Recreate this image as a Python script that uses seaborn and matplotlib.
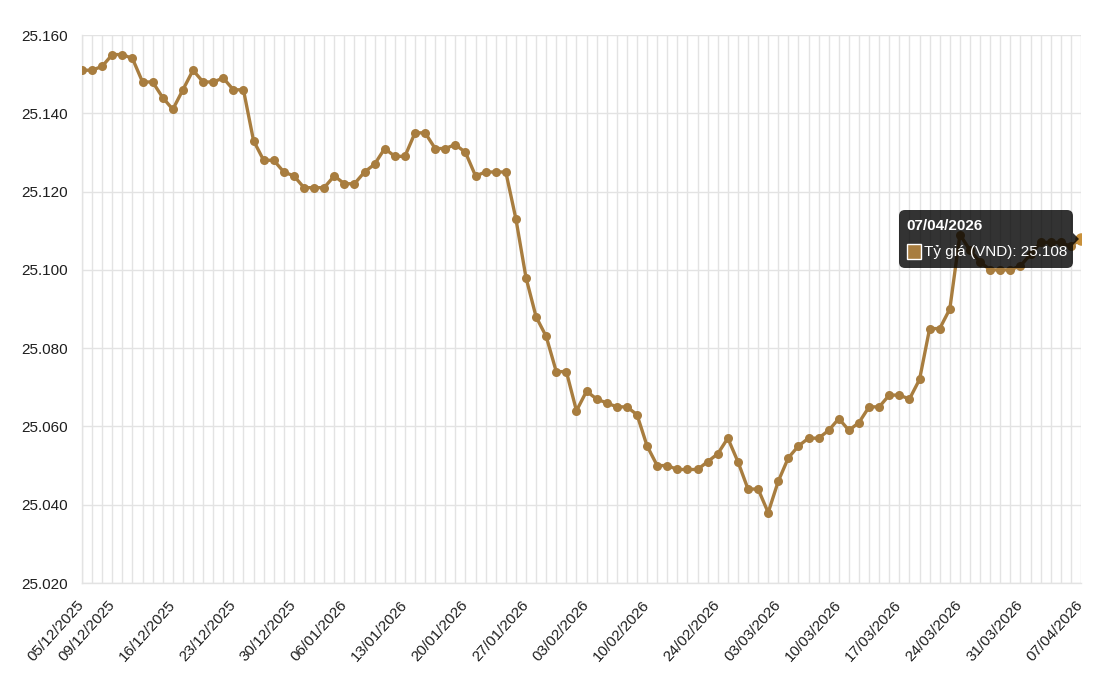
import pandas as pd
import matplotlib
matplotlib.use("Agg")
import matplotlib.pyplot as plt
from matplotlib.patches import FancyBboxPatch, Polygon, Rectangle
import seaborn as sns

# daily central rate (VND), Mon-Sat publishing days
rates = [
    25151, 25151, 25152, 25155, 25155, 25154, 25148, 25148, 25144, 25141,
    25146, 25151, 25148, 25148, 25149, 25146, 25146, 25133, 25128, 25128,
    25125, 25124, 25121, 25121, 25121, 25124, 25122, 25122, 25125, 25127,
    25131, 25129, 25129, 25135, 25135, 25131, 25131, 25132, 25130, 25124,
    25125, 25125, 25125, 25113, 25098, 25088, 25083, 25074, 25074, 25064,
    25069, 25067, 25066, 25065, 25065, 25063, 25055, 25050, 25050, 25049,
    25049, 25049, 25051, 25053, 25057, 25051, 25044, 25044, 25038, 25046,
    25052, 25055, 25057, 25057, 25059, 25062, 25059, 25061, 25065, 25065,
    25068, 25068, 25067, 25072, 25085, 25085, 25090, 25109, 25105, 25102,
    25100, 25100, 25100, 25101, 25104, 25107, 25107, 25107, 25106, 25108,
]
holidays = ["2026-01-01", "2026-02-16", "2026-02-17", "2026-02-18",
            "2026-02-19", "2026-02-20"]
y_ticks = [25020, 25040, 25060, 25080, 25100, 25120, 25140, 25160]

dates = pd.bdate_range("2025-12-05", "2026-04-07", freq="C",
                       weekmask="Mon Tue Wed Thu Fri Sat", holidays=holidays)
labels = list(dates.strftime("%d/%m/%Y"))
df = pd.DataFrame({"idx": range(len(rates)), "rate": rates, "date": labels})
shown = [0] + [i for i, d in enumerate(dates) if d.weekday() == 1]

LINE = "#a87d3f"
GRID = "#e3e3e3"
TEXT = "#1e1e1e"

sns.set_theme(style="white")
plt.rcParams["font.family"] = ["Liberation Sans", "DejaVu Sans"]

W, H = 1098, 675
fig = plt.figure(figsize=(W / 100, H / 100), dpi=100)
ax = fig.add_axes([82 / W, 1 - 583 / H, (1081 - 82) / W, (583 - 35) / H])

sns.lineplot(data=df, x="idx", y="rate", color=LINE, lw=2.4, marker="o",
             markersize=6.5, markeredgewidth=0, ax=ax, zorder=3)
# hovered point
ax.plot(df["idx"].iloc[-1], df["rate"].iloc[-1], "o", color="#c8903a",
        markersize=8, zorder=4)

ax.set_xlim(0, len(rates) - 1)
ax.set_ylim(y_ticks[0], y_ticks[-1])
ax.set_xticks(df["idx"])
ax.set_xticklabels([lab if i in shown else "" for i, lab in enumerate(labels)],
                   rotation=48, ha="right", va="center", rotation_mode="anchor")
ax.set_yticks(y_ticks)
ax.set_yticklabels([f"{v / 1000:.3f}" for v in y_ticks])
ax.tick_params(axis="both", length=7, width=1, color=GRID, labelsize=11,
               labelcolor=TEXT)
ax.tick_params(axis="x", pad=7)
ax.tick_params(axis="y", pad=3)
ax.grid(True, color=GRID, lw=1)
for side in ["top", "right"]:
    ax.spines[side].set_visible(False)
for side in ["left", "bottom"]:
    ax.spines[side].set_color(GRID)
    ax.spines[side].set_linewidth(1)
ax.set_xlabel("")
ax.set_ylabel("")

# tooltip overlay in pixel coordinates
ov = fig.add_axes([0, 0, 1, 1])
ov.set_xlim(0, W)
ov.set_ylim(H, 0)
ov.axis("off")
ov.add_patch(FancyBboxPatch((899, 210), 174, 58,
                            boxstyle="round,pad=0,rounding_size=6",
                            facecolor="black", alpha=0.8, lw=0))
ov.add_patch(Polygon([(1073, 233), (1079, 239), (1073, 245)],
                     facecolor="black", alpha=0.8, lw=0))
ov.text(906, 226, labels[-1], color="white", fontsize=11,
        fontweight="bold", va="center", ha="left")
ov.add_patch(Rectangle((907, 244), 14, 15, facecolor=LINE,
                       edgecolor="white", lw=1))
ov.text(924, 252, f"Tỷ giá (VND): {rates[-1] / 1000:.3f}", color="white",
        fontsize=11, va="center", ha="left")

fig.savefig("out.png", dpi=100)
